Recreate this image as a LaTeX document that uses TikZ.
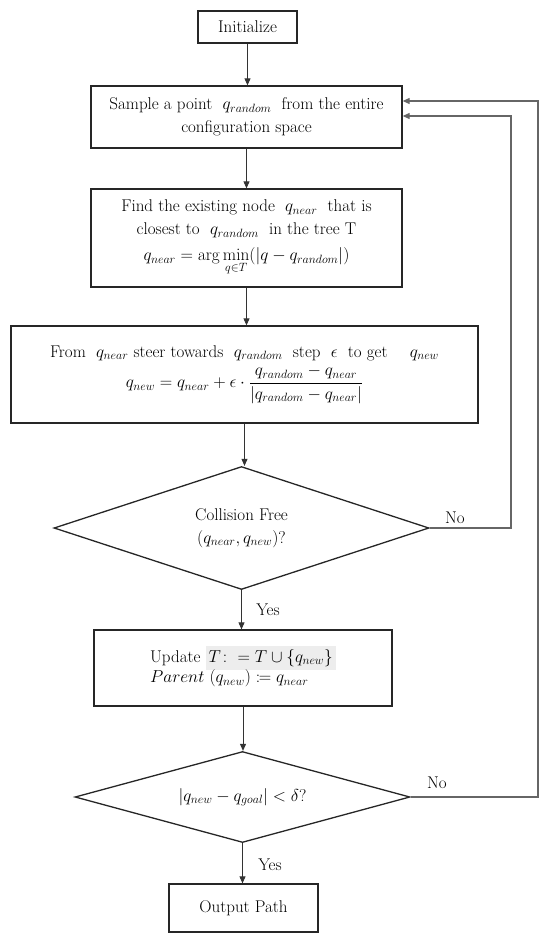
\documentclass[tikz,border=0pt]{standalone}
\usepackage{amsmath,mathtools}
\DeclareMathSizes{17}{17}{13.2}{10}
\usetikzlibrary{shapes.geometric,arrows.meta}
\begin{document}
\begin{tikzpicture}[x=1pt,y=-1pt,
  every node/.style={font=\fontsize{17}{23}\selectfont},
  box/.style={draw=black!85,line width=1.3pt,rectangle,inner sep=0pt,align=center},
  decide/.style={draw=black!85,line width=1.3pt,diamond,inner sep=0pt,align=center},
  conn/.style={draw=black!80,line width=0.9pt,-{Triangle[length=7pt,width=6pt]}},
  loopc/.style={draw=black!60,line width=1.1pt,-{Triangle[length=7pt,width=6pt]},color=black!60},
  lab/.style={inner sep=0pt}]
\useasboundingbox (0,0) rectangle (550,940);
\node[box,minimum width=99pt,minimum height=32pt] (init) at (247.5,27) {Initialize};
\node[box,minimum width=311pt,minimum height=62pt] (sample) at (246.5,117)
  {Sample a point \ $q_{random}$ \ from the entire\\configuration space};
\node[box,minimum width=311pt,minimum height=98pt] (find) at (246.5,238)
  {Find the existing node \ $q_{near}$ \ that is\\closest to \ $q_{random}$ \ in the tree T\\[3pt]
   $q_{near} = \arg\min\limits_{q\in T}(|q - q_{random}|)$};
\node[box,minimum width=467pt,minimum height=97pt] (from) at (244.5,374.5)
  {From \ $q_{near}$ steer towards \ $q_{random}$ \ step \ $\epsilon$ \ to get \quad $q_{new}$\\[4pt]
   $\displaystyle q_{new} = q_{near} + \epsilon\cdot\frac{q_{random}-q_{near}}{|q_{random}-q_{near}|}$};
\node[decide,minimum width=375pt,minimum height=123pt,aspect=3.05] (d1) at (241.5,528)
  {Collision Free\\$(q_{near},q_{new})$?};
\node[box,minimum width=298pt,minimum height=76pt] (upd) at (243,668)
  {\begin{tabular}{@{}l@{}}Update \colorbox{black!7}{$T\colon= T\cup\{q_{new}\}$}\\[-3pt]
   $Parent\ (q_{new}) \coloneqq q_{near}$\end{tabular}};
\node[decide,minimum width=335pt,minimum height=91pt,aspect=3.68] (d2) at (242.5,797)
  {$|q_{new} - q_{goal}| < \delta$?};
\node[box,minimum width=149pt,minimum height=48pt] (out) at (243.5,908) {Output Path};

\draw[conn] (init.south) -- (init.south |- sample.north);
\draw[conn] (sample.south) -- (sample.south |- find.north);
\draw[conn] (find.south) -- (find.south |- from.north);
\draw[conn] (from.south) -- (from.south |- d1.north);
\draw[conn] (d1.south) -- (d1.south |- upd.north);
\draw[conn] (upd.south) -- (upd.south |- d2.north);
\draw[conn] (d2.south) -- (d2.south |- out.north);

\coordinate (c1) at (511,116);
\coordinate (c2) at (538,101);
\draw[loopc] (d1.east) -| (c1) -- (c1 -| sample.east);
\draw[loopc] (d2.east) -| (c2) -- (c2 -| sample.east);

\node[lab] (no1) at (455,518) {No};
\node[lab] (yes1) at (268,610) {Yes};
\node[lab] (no2) at (437,783) {No};
\node[lab] (yes2) at (270,865) {Yes};
\end{tikzpicture}
\end{document}
